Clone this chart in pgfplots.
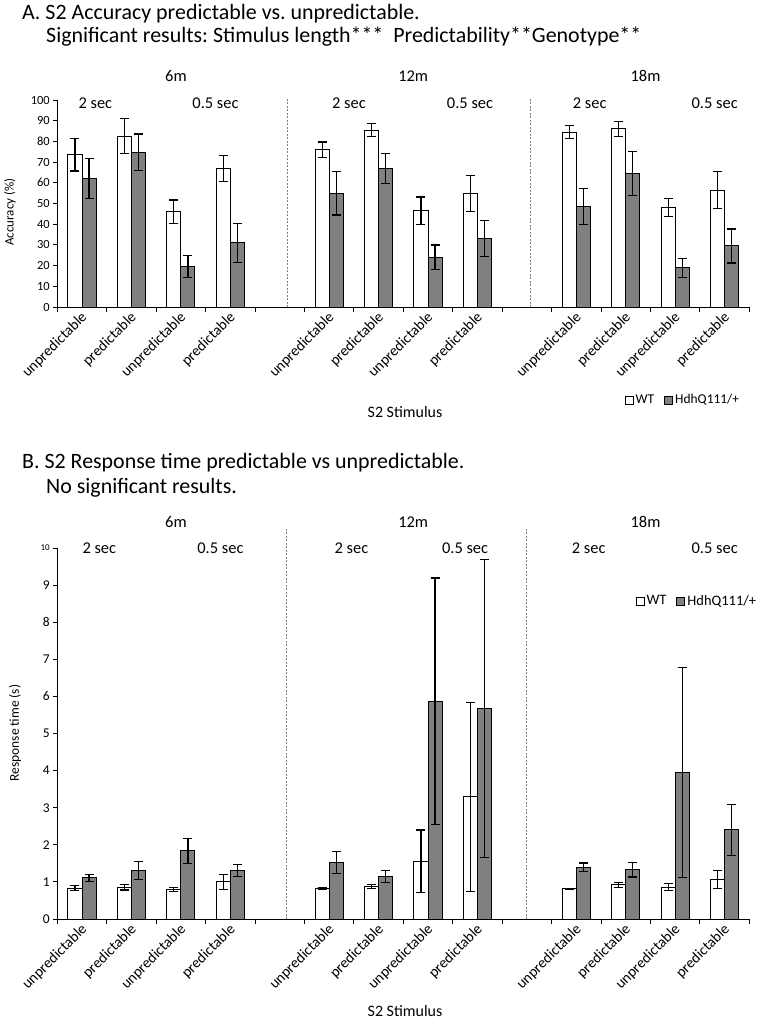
\documentclass[border=0pt]{standalone}
\usepackage{fontspec}
\setmainfont{Carlito}
\usepackage{pgfplots}
\pgfplotsset{compat=1.18}
\usepackage{pgfplotstable}
\frenchspacing

\pgfplotstableread{
x y e
0 73.5 7.8
1 82.5 8.5
2 46.0 5.7
3 67.0 6.2
5 76.0 3.7
6 85.5 3.1
7 46.5 6.6
8 55.0 8.7
10 84.5 3.2
11 86.0 3.7
12 48.0 4.4
13 56.5 8.9
}\topWT
\pgfplotstableread{
x y e
0 62.0 9.7
1 74.8 8.8
2 19.5 5.3
3 31.0 9.5
5 55.0 10.6
6 67.0 7.2
7 24.0 6.0
8 33.0 8.6
10 48.5 8.7
11 64.5 10.5
12 19.0 4.6
13 29.5 8.2
}\topHdh
\pgfplotstableread{
x y e
0 0.83 0.07
1 0.86 0.08
2 0.80 0.05
3 1.00 0.21
5 0.82 0.02
6 0.88 0.06
7 1.56 0.84
8 3.29 2.54
10 0.82 0.01
11 0.92 0.06
12 0.86 0.10
13 1.06 0.24
}\botWT
\pgfplotstableread{
x y e
0 1.11 0.10
1 1.31 0.25
2 1.84 0.34
3 1.31 0.16
5 1.52 0.30
6 1.14 0.16
7 5.87 3.32
8 5.68 4.02
10 1.39 0.12
11 1.33 0.20
12 3.95 2.83
13 2.40 0.68
}\botHdh

\pgfplotsset{
  mystyle/.style={
    scale only axis, width=692bp, anchor=south west,
    xmin=-0.5, xmax=13.5, ymin=0,
    ybar=0pt, bar width=0.285,
    axis lines*=left,
    axis line style={line width=1bp, black},
    clip=false,
    xtick={0,...,13},
    xticklabels={unpredictable,predictable,unpredictable,predictable,,unpredictable,predictable,unpredictable,predictable,,unpredictable,predictable,unpredictable,predictable},
    minor xtick={-0.5,0.5,...,13.5},
    major x tick style={draw=none},
    minor x tick style={line width=1bp, black},
    minor tick length=5bp,
    major tick length=4bp,
    tick align=outside,
    y tick style={line width=1bp, black},
    xticklabel style={rotate=45, anchor=east, font=\fontsize{15}{17}\selectfont, inner sep=1bp, xshift=5bp},
    xticklabel shift=7bp,
    yticklabel style={font=\fontsize{12.5}{14}\selectfont},
    /pgf/number format/assume math mode=true,
    legend style={draw=none, fill=none, legend columns=2,
      /tikz/every even column/.append style={column sep=8bp}},
    legend image code/.code={\draw[##1] (0bp,-4bp) rectangle (8bp,4bp);},
  },
  wtbar/.style={fill=white, draw=black, line width=1bp,
    error bars/.cd, y dir=both, y explicit,
    error bar style={line width=1.2bp, black},
    error mark options={rotate=90, mark size=4.5bp, line width=1.2bp, black}},
  hdbar/.style={fill=gray, draw=black, line width=1bp,
    error bars/.cd, y dir=both, y explicit,
    error bar style={line width=1.2bp, black},
    error mark options={rotate=90, mark size=4.5bp, line width=1.2bp, black}},
}

\begin{document}
\begin{tikzpicture}
\path[use as bounding box] (0bp,0bp) rectangle (761bp,-1019bp);

% Titles
\begin{scope}[every node/.style={anchor=west, font=\fontsize{22}{26}\selectfont, inner sep=0}]
\node at (22bp,-14bp) {A. S2 Accuracy predictable vs. unpredictable.};
\node at (46bp,-37bp) {Significant results: Stimulus length*** \ Predictability**Genotype**};
\node at (22bp,-463bp) {B. S2 Response time predictable vs unpredictable.};
\node at (46bp,-488bp) {No significant results.};
\end{scope}

% Top axis
\begin{axis}[mystyle, at={(57.3bp,-307bp)}, height=207bp, ymax=100, ytick={0,10,...,100},
  legend style={at={(1,0)}, anchor=east, xshift=-5bp, yshift=-93bp, font=\fontsize{13.5}{15}\selectfont}]
\addplot[wtbar] table[x=x, y=y, y error=e] {\topWT};
\addplot[hdbar] table[x=x, y=y, y error=e] {\topHdh};
\legend{WT, HdhQ111/+}
\draw[gray, line width=0.8bp, dash pattern=on 2bp off 1.5bp] (axis cs:4.15,0) -- (axis cs:4.15,100.5);
\draw[gray, line width=0.8bp, dash pattern=on 2bp off 1.5bp] (axis cs:9.07,0) -- (axis cs:9.07,100.5);
\begin{scope}[font=\fontsize{16.5}{18}\selectfont]
\node at (axis cs:1.9,111.6) {6m};
\node at (axis cs:6.7,111.6) {12m};
\node at (axis cs:11.4,111.6) {18m};
\node at (axis cs:0.27,98.5) {2 sec};
\node at (axis cs:2.7,98.5) {0.5 sec};
\node at (axis cs:5.4,98.5) {2 sec};
\node at (axis cs:7.85,98.5) {0.5 sec};
\node at (axis cs:10.27,98.5) {2 sec};
\node at (axis cs:12.8,98.5) {0.5 sec};
\end{scope}
\end{axis}
\node[rotate=90, font=\fontsize{13}{15}\selectfont] at (10bp,-212bp) {Accuracy (\%)};
\node[font=\fontsize{16}{18}\selectfont] at (405bp,-412bp) {S2 Stimulus};

% Bottom axis
\begin{axis}[mystyle, at={(57.3bp,-919bp)}, height=371bp, ymax=10, ytick={0,1,...,10},
  yticklabels={0,1,2,3,4,5,6,7,8,9,{\fontsize{9}{10}\selectfont 10}},
  yticklabel style={font=\fontsize{13.5}{15}\selectfont},
  legend style={at={(axis cs:13.5,8.57)}, anchor=east, xshift=12bp, font=\fontsize{14.5}{16}\selectfont}]
\addplot[wtbar] table[x=x, y=y, y error=e] {\botWT};
\addplot[hdbar] table[x=x, y=y, y error=e] {\botHdh};
\legend{WT, HdhQ111/+}
\draw[gray, line width=0.8bp, dash pattern=on 2bp off 1.5bp] (axis cs:4.13,0) -- (axis cs:4.13,10.55);
\draw[gray, line width=0.8bp, dash pattern=on 2bp off 1.5bp] (axis cs:9.0,0) -- (axis cs:9.0,10.55);
\begin{scope}[font=\fontsize{16.5}{18}\selectfont]
\node at (axis cs:1.9,10.7) {6m};
\node at (axis cs:6.7,10.7) {12m};
\node at (axis cs:11.4,10.7) {18m};
\node at (axis cs:0.35,10.0) {2 sec};
\node at (axis cs:2.8,10.0) {0.5 sec};
\node at (axis cs:5.45,10.0) {2 sec};
\node at (axis cs:7.75,10.0) {0.5 sec};
\node at (axis cs:10.25,10.0) {2 sec};
\node at (axis cs:12.8,10.0) {0.5 sec};
\end{scope}
\end{axis}
\node[rotate=90, font=\fontsize{13.5}{15}\selectfont] at (15bp,-733bp) {Response time (s)};
\node[font=\fontsize{16}{18}\selectfont] at (405bp,-1011bp) {S2 Stimulus};
\end{tikzpicture}
\end{document}
